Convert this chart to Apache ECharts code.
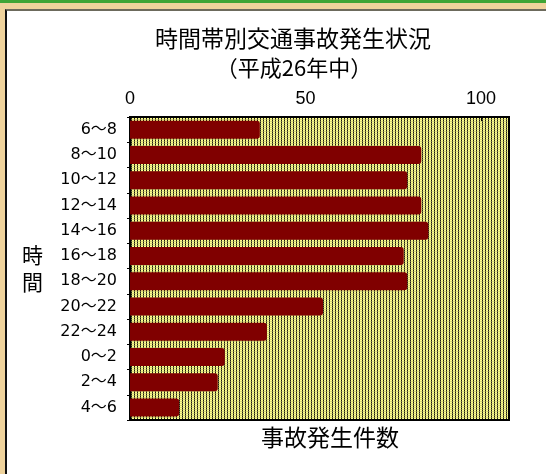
<!DOCTYPE html>
<html>
<head>
<meta charset="utf-8">
<script src="https://cdn.jsdelivr.net/npm/echarts@6/dist/echarts.min.js"></script>
<style>
    html, body { margin: 0; padding: 0; }
    body {
        width: 546px; height: 474px; position: relative; overflow: hidden;
        background: #efd39c;
    }
    #band { position: absolute; left: 0; top: 0; width: 546px; height: 3px; background: #3fa535; }
    #panel {
        position: absolute; left: 5px; top: 9px; right: 0; bottom: 0;
        background: #fff; border-left: 2px solid #111; border-top: 2px solid #6c6a5c;
    }
    #main { position: absolute; left: 0; top: 0; width: 546px; height: 474px; }
</style>
</head>
<body>
<div id="band"></div>
<div id="panel"></div>
<div id="main"></div>
<script>
    // 時間帯
    var categories = ['6～8', '8～10', '10～12', '12～14', '14～16', '16～18',
        '18～20', '20～22', '22～24', '0～2', '2～4', '4～6'];
    // 事故発生件数
    var counts = [37, 83, 79, 83, 85, 78, 79, 55, 39, 27, 25, 14];
    // 目盛り
    var axisMin = 0;
    var axisStep = 50;
    var axisMax = 108;

    // 背景の網掛け（黄色に縦の点線）
    function makePattern() {
        var c = document.createElement('canvas');
        c.width = 3;
        c.height = 2;
        var ctx = c.getContext('2d');
        ctx.fillStyle = '#ffff8f';
        ctx.fillRect(0, 0, 3, 2);
        ctx.fillStyle = '#1a1a10';
        ctx.fillRect(2, 0, 1, 1);
        ctx.fillStyle = '#6b6b40';
        ctx.fillRect(2, 1, 1, 1);
        ctx.fillStyle = '#d8d878';
        ctx.fillRect(0, 1, 2, 1);
        return c;
    }

    var myChart = echarts.init(document.getElementById('main'), null, { renderer: 'canvas' });
    var jpFont = '"Noto Sans CJK JP", sans-serif';

    var option = {
        backgroundColor: 'transparent',
        animation: false,
        title: [
            {
                text: '時間帯別交通事故発生状況',
                left: 288, top: 22, textAlign: 'center',
                textStyle: { fontFamily: jpFont, fontSize: 23, fontWeight: 'normal', color: '#000' }
            },
            {
                text: '（平成26年中）',
                left: 289, top: 52, textAlign: 'center',
                textStyle: { fontFamily: jpFont, fontSize: 22, fontWeight: 'normal', color: '#000' }
            },
            {
                text: '事故発生件数',
                left: 325, top: 421, textAlign: 'center',
                textStyle: { fontFamily: jpFont, fontSize: 23, fontWeight: 'normal', color: '#000' }
            }
        ],
        grid: {
            left: 130, top: 117, width: 379, height: 303,
            show: true,
            backgroundColor: { image: makePattern(), repeat: 'repeat' },
            borderColor: '#000', borderWidth: 2
        },
        xAxis: {
            type: 'value',
            position: 'top',
            min: axisMin, max: axisMax, interval: axisStep,
            axisLine: { show: false },
            axisTick: { show: true, inside: true, length: 4, lineStyle: { color: '#000' } },
            splitLine: { show: false },
            axisLabel: {
                margin: 9,
                fontFamily: '"Liberation Sans", Arial, sans-serif',
                fontSize: 18, color: '#000',
                showMaxLabel: false
            }
        },
        yAxis: {
            type: 'category',
            data: categories,
            inverse: true,
            name: '時\n間',
            nameLocation: 'middle',
            nameRotate: 0,
            nameGap: 87,
            nameTextStyle: {
                fontFamily: jpFont, fontSize: 21, color: '#000',
                lineHeight: 27, padding: [8, 0, 0, 0]
            },
            axisLine: { show: false },
            axisTick: { show: true, length: 3, lineStyle: { color: '#000' } },
            axisLabel: {
                margin: 13,
                fontFamily: '"DejaVu Sans", "Noto Sans CJK JP", sans-serif',
                fontSize: 16, color: '#000'
            }
        },
        series: [
            {
                type: 'bar',
                data: counts,
                barWidth: 18,
                itemStyle: { color: '#800000', borderRadius: [0, 3, 3, 0] }
            }
        ]
    };
    myChart.setOption(option);
</script>
</body>
</html>
